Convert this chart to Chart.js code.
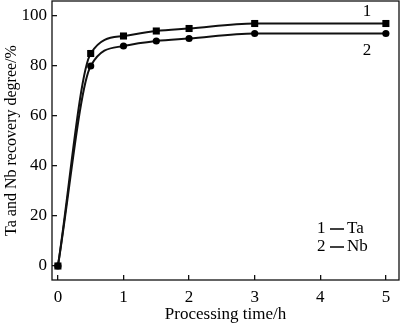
<!DOCTYPE html>
<html>
<head>
<meta charset="utf-8">
<script src="https://cdn.jsdelivr.net/npm/chart.js@4"></script>
<style>
  html, body { margin: 0; padding: 0; background: #fff; }
  #wrap { width: 400px; height: 325px; }
</style>
</head>
<body>
<div id="wrap"><canvas id="chart-recovery"></canvas></div>
<script>
// Recovery degree vs processing time
const timeH = [0, 0.5, 1, 1.5, 2, 3, 5];
const taRecovery = [0, 85, 92, 94, 95, 97, 97];
const nbRecovery = [0, 80, 88, 90, 91, 93, 93];
const xTicks = [0, 1, 2, 3, 4, 5];
const yTicks = [0, 20, 40, 60, 80, 100];
const seriesNames = ['1', '2'];
const legendLines = [['1', 'Ta'], ['2', 'Nb']];

const FONT = '"Liberation Serif", "Times New Roman", serif';
Chart.defaults.font.family = FONT;
Chart.defaults.color = '#000';

const toPoints = ys => timeH.map((t, i) => ({ x: t, y: ys[i] }));

// no extra room for edge labels, the frame is fixed
const fixBox = (s, prop, size) => {
  s[prop] = size;
  s.paddingTop = s.paddingBottom = s.paddingLeft = s.paddingRight = 0;
};

// frame + curve numbers + key in the lower right
const extras = {
  id: 'extras',
  afterDraw(chart) {
    const { ctx, chartArea: a } = chart;
    const xs = chart.scales.x, ys = chart.scales.y;
    ctx.save();
    ctx.strokeStyle = '#111';
    ctx.lineWidth = 1.3;
    ctx.strokeRect(a.left, a.top, a.right - a.left, a.bottom - a.top);

    ctx.fillStyle = '#000';
    ctx.font = '17px ' + FONT;
    ctx.textAlign = 'center';
    ctx.textBaseline = 'middle';
    const lastX = timeH[timeH.length - 1];
    ctx.fillText(seriesNames[0], xs.getPixelForValue(lastX) - 19, ys.getPixelForValue(taRecovery[taRecovery.length - 1]) - 12);
    ctx.fillText(seriesNames[1], xs.getPixelForValue(lastX) - 19, ys.getPixelForValue(nbRecovery[nbRecovery.length - 1]) + 17);

    ctx.textAlign = 'left';
    legendLines.forEach((l, i) => {
      const y = 229 + i * 18;
      ctx.fillText(l[0], 317, y);
      ctx.beginPath();
      ctx.moveTo(330, y);
      ctx.lineTo(344, y);
      ctx.lineWidth = 1.6;
      ctx.stroke();
      ctx.fillText(l[1], 347, y);
    });
    ctx.restore();
  }
};

new Chart(document.getElementById('chart-recovery'), {
  type: 'line',
  data: {
    datasets: [
      { label: 'Ta', data: toPoints(taRecovery), pointStyle: 'rect', pointRadius: 5 },
      { label: 'Nb', data: toPoints(nbRecovery), pointStyle: 'circle', pointRadius: 3.6 }
    ]
  },
  options: {
    responsive: true, maintainAspectRatio: false, animation: false,
    layout: { autoPadding: false, padding: { top: 1, right: 1, left: 0, bottom: 0 } },
    elements: {
      line: { borderColor: '#111', borderWidth: 2, cubicInterpolationMode: 'monotone', fill: false },
      point: { backgroundColor: '#000', borderColor: '#000', borderWidth: 0 }
    },
    plugins: { legend: { display: false }, tooltip: { enabled: false } },
    scales: {
      x: {
        type: 'linear', min: -0.09, max: 5.2,
        afterBuildTicks: s => { s.ticks = xTicks.map(v => ({ value: v })); },
        afterFit: s => fixBox(s, 'height', 45),
        border: { display: false },
        grid: { drawOnChartArea: false, tickLength: -5, color: '#111', lineWidth: 1.3 },
        ticks: { font: { size: 17 }, padding: 12, maxRotation: 0 },
        title: { display: true, text: 'Processing time/h', font: { size: 17 }, padding: { top: 0, bottom: 0 } }
      },
      y: {
        type: 'linear', min: -5.6, max: 106,
        afterBuildTicks: s => { s.ticks = yTicks.map(v => ({ value: v })); },
        afterFit: s => fixBox(s, 'width', 52),
        border: { display: false },
        grid: { drawOnChartArea: false, tickLength: -5, color: '#111', lineWidth: 1.3 },
        ticks: { font: { size: 17 }, padding: 10 },
        title: { display: true, text: 'Ta and Nb recovery degree/%', font: { size: 16 }, padding: { top: 2, bottom: 0 } }
      }
    }
  },
  plugins: [extras]
});
</script>
</body>
</html>
